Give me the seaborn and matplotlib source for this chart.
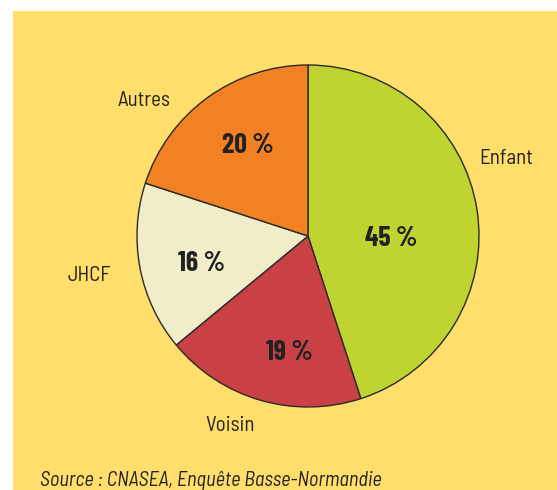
import matplotlib
matplotlib.use("Agg")
import matplotlib.pyplot as plt
import seaborn as sns

sns.set_style("white")
plt.rcParams['font.family'] = ['Barlow Condensed', 'DejaVu Sans']
LABEL_FONT = ['Barlow Semi Condensed', 'Barlow Condensed', 'DejaVu Sans']

categories = ["Enfant", "Voisin", "JHCF", "Autres"]
values = [45, 19, 16, 20]
pct_labels = ["45 %", "19 %", "16 %", "20 %"]
colors = ["#BFD431", "#C94144", "#F2EDC9", "#F28123"]

label_pos = [(479, 158), (230, 425), (89, 275), (144, 100)]
label_ha = ["left", "center", "center", "center"]
pct_pos = [(391, 238), (289, 352), (201, 263), (248, 145)]

W, H = 557, 490
fig = plt.figure(figsize=(W / 100, H / 100), dpi=100)
fig.patch.set_facecolor("white")
bg = fig.add_axes([13 / W, 0, 1 - 13 / W, 1 - 11 / H])
bg.set_facecolor("#FFDE6B")
bg.set_xticks([]); bg.set_yticks([])
for s in bg.spines.values():
    s.set_visible(False)

ax = fig.add_axes([0, 0, 1, 1])
ax.patch.set_alpha(0)
# y axis inverted (pixel coordinates): startangle 270 points up on screen,
# and counterclockwise in data becomes clockwise on screen
ax.pie(values, colors=colors, startangle=270, counterclock=True,
       center=(308, 236), radius=171,
       wedgeprops=dict(edgecolor="#2a2a2a", linewidth=1.0))
ax.set_xlim(0, W)
ax.set_ylim(H, 0)
ax.set_aspect("equal")
ax.axis("off")

for (x, y), t, ha in zip(label_pos, categories, label_ha):
    ax.text(x, y, t, ha=ha, va="center", fontsize=15, color="#222222", family=LABEL_FONT)
for (x, y), t in zip(pct_pos, pct_labels):
    ax.text(x, y, t, ha="center", va="center", fontsize=20, fontweight="bold", color="#222222")

ax.text(40, 480, "Source : CNASEA, Enquête Basse-Normandie", ha="left", va="center",
        fontsize=14.6, style="italic", color="#222222", family=LABEL_FONT)

fig.savefig("out.png", dpi=100, facecolor=fig.get_facecolor())
